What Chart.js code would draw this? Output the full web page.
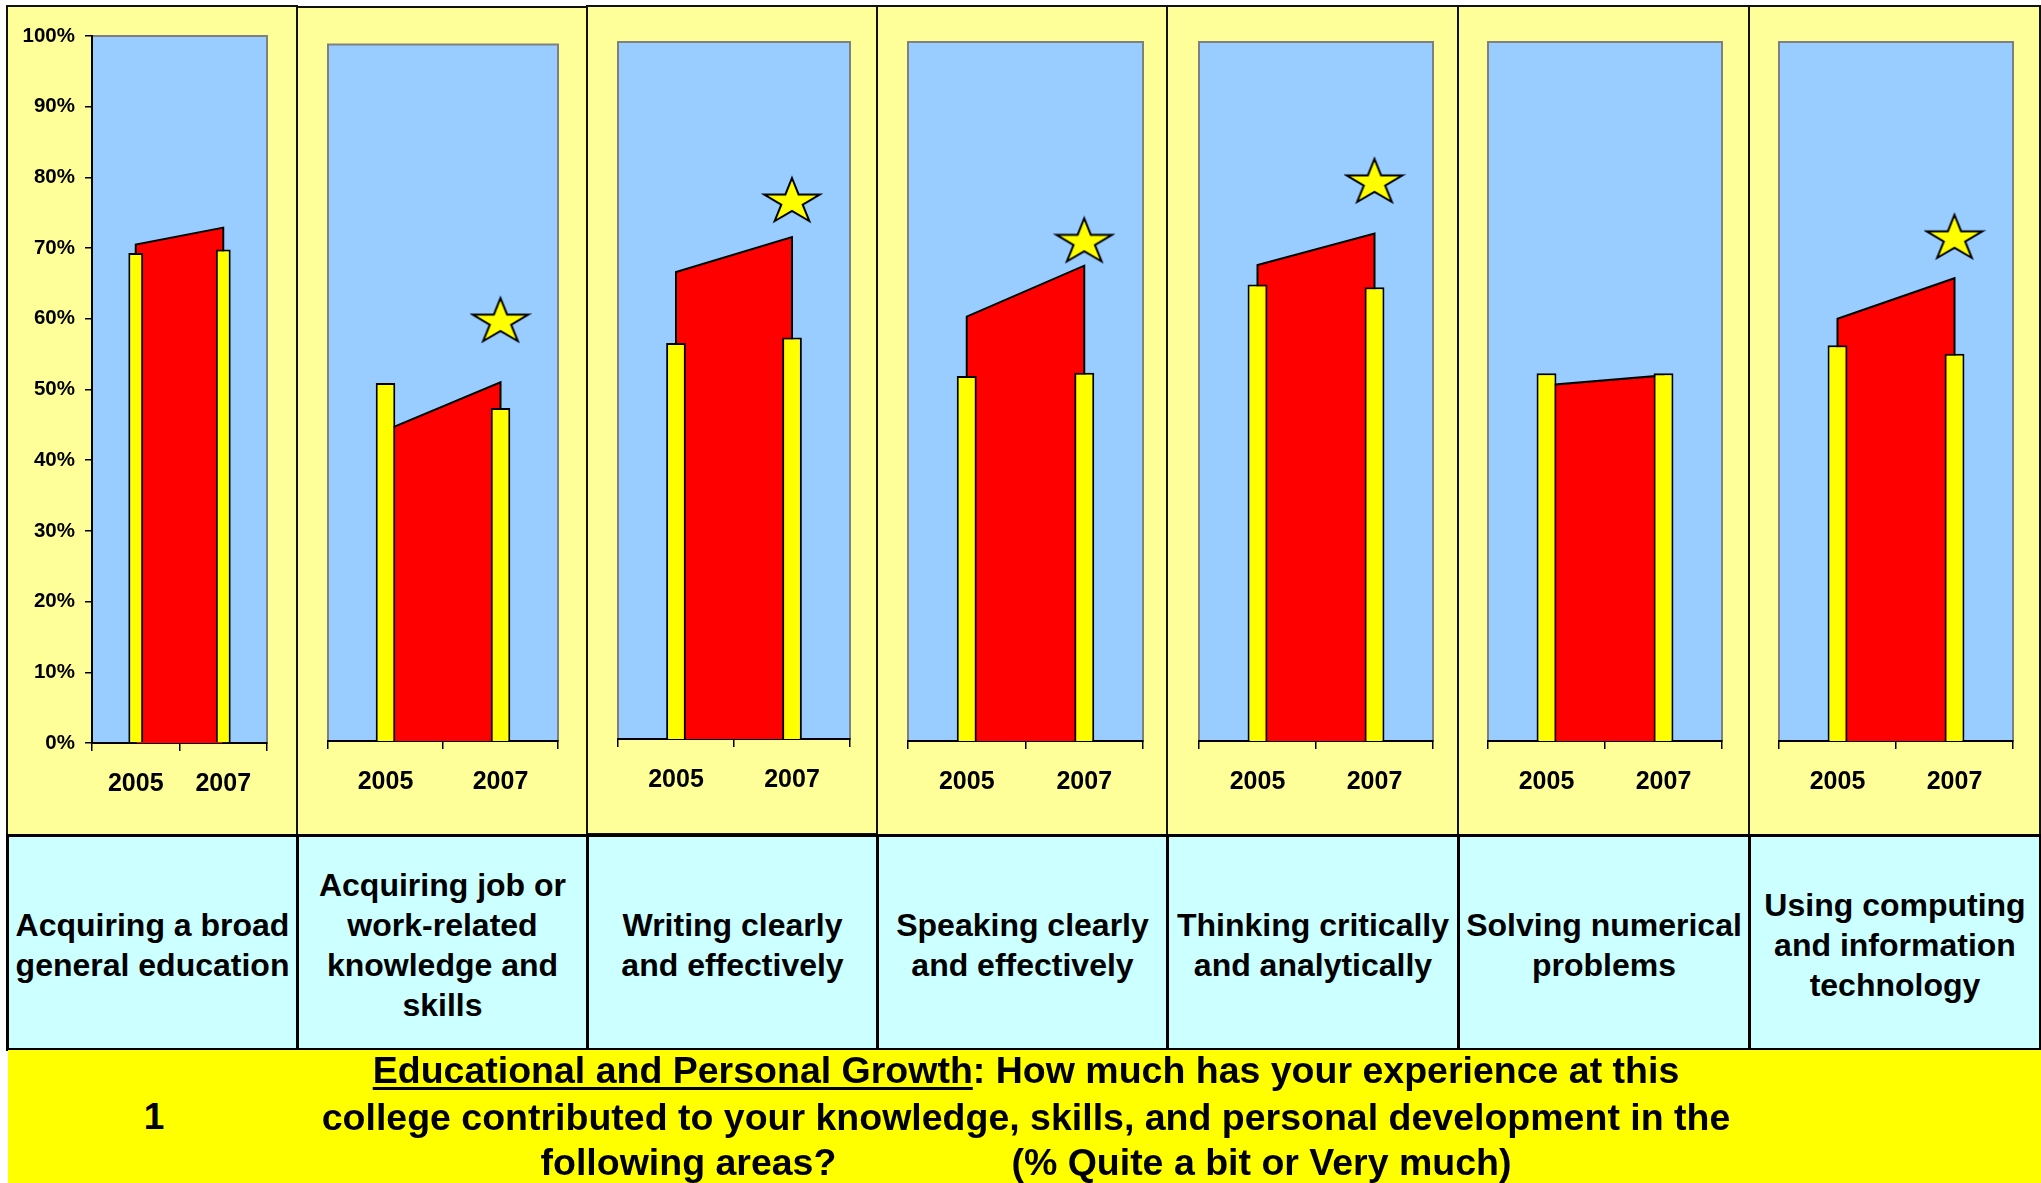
<!DOCTYPE html>
<html><head><meta charset="utf-8">
<script src="https://cdn.jsdelivr.net/npm/chart.js@4.4.1/dist/chart.umd.min.js"></script>
<style>
html,body{margin:0;padding:0;background:#fff;width:2041px;height:1183px;overflow:hidden;font-family:"Liberation Sans",Arial,sans-serif;}
.panel{position:absolute;background:#FFFF99;}
.panel canvas{position:absolute;left:0;top:0;}
.pborder{position:absolute;border:2px solid #111;box-sizing:border-box;pointer-events:none;}
.cell{position:absolute;box-sizing:border-box;border:3px solid #000;background:#CCFFFF;display:flex;align-items:center;justify-content:center;text-align:center;font-weight:bold;font-size:32px;line-height:40px;color:#000;padding-top:5px;}
#footer{position:absolute;left:8px;top:1050px;width:2033px;height:133px;background:#FFFF00;}
.fl{position:absolute;left:200px;width:1652px;text-align:center;font-weight:bold;font-size:37.5px;line-height:46px;white-space:nowrap;color:#000;}
.fl u{text-decoration-thickness:3px;text-underline-offset:4px;}
#qnum{position:absolute;left:128px;width:52px;text-align:center;font-weight:bold;font-size:37px;line-height:46px;top:1094px;}
</style></head><body>
<div id="root"></div>
<div id="footer"></div>
<div id="qnum">1</div>
<div class="fl" style="top:1047px"><u>Educational and Personal Growth</u>: How much has your experience at this</div>
<div class="fl" style="top:1094px">college contributed to your knowledge, skills, and personal development in the</div>
<div class="fl" style="top:1139px">following areas?<span style="display:inline-block;width:175px"></span>(% Quite a bit or Very much)</div>
<script>
// ---- data ----
const categories = [
  ['Acquiring a broad', 'general education'],
  ['Acquiring job or', 'work-related', 'knowledge and', 'skills'],
  ['Writing clearly', 'and effectively'],
  ['Speaking clearly', 'and effectively'],
  ['Thinking critically', 'and analytically'],
  ['Solving numerical', 'problems'],
  ['Using computing', 'and information', 'technology']
];
const years = ['2005', '2007'];
const college2005 = [69.3, 51.4, 56.8, 52.2, 65.3, 52.6, 56.6];
const college2007 = [69.8, 47.8, 57.6, 52.7, 64.9, 52.6, 55.4];
const comparison2005 = [70.5, 44.6, 67.0, 60.7, 68.1, 50.9, 60.4];
const comparison2007 = [72.9, 51.5, 72.0, 68.0, 72.6, 52.3, 66.2];
const starValues = [null, 60.5, 77.4, 71.7, 80.2, null, 72.2];
const yTickValues = [0, 10, 20, 30, 40, 50, 60, 70, 80, 90, 100];
const yTickSuffix = '%';

// ---- layout ----
const boxes = [
 {l:7,   t:6, r:297,  b:836, pl:92,   pt:36,   pr:267,  pb:743},
 {l:297, t:7, r:587,  b:836, pl:328,  pt:44.5, pr:558,  pb:741},
 {l:587, t:6, r:877,  b:834, pl:618,  pt:42,   pr:850,  pb:739},
 {l:877, t:6, r:1167, b:836, pl:908,  pt:42,   pr:1143, pb:741},
 {l:1167,t:6, r:1458, b:836, pl:1199, pt:42,   pr:1433, pb:741},
 {l:1458,t:6, r:1749, b:836, pl:1488, pt:42,   pr:1722, pb:741},
 {l:1749,t:6, r:2040, b:836, pl:1779, pt:42,   pr:2013, pb:741}
];
const FONT = '"Liberation Sans", Arial, sans-serif';

function makeStar(w, h) {
  const pad = 3;
  const c = document.createElement('canvas');
  c.width = w + pad * 2; c.height = h + pad * 2;
  const ctx = c.getContext('2d');
  const sx = w / 1.902, sy = h / 1.809;
  const cx = c.width / 2, cy = pad + sy;
  ctx.beginPath();
  for (let k = 0; k < 10; k++) {
    const ang = -Math.PI / 2 + k * Math.PI / 5;
    const rad = (k % 2) ? 0.382 : 1;
    const x = cx + Math.cos(ang) * rad * sx, y = cy + Math.sin(ang) * rad * sy;
    if (k) ctx.lineTo(x, y); else ctx.moveTo(x, y);
  }
  ctx.closePath();
  ctx.fillStyle = '#FFFF00'; ctx.fill();
  ctx.lineWidth = 2; ctx.strokeStyle = '#000'; ctx.lineJoin = 'miter'; ctx.stroke();
  return c;
}
const starImg = makeStar(56, 43);

const bgPlugin = {
  id: 'plotbg',
  beforeDraw(chart) {
    const {ctx, chartArea: a} = chart;
    ctx.save();
    ctx.fillStyle = '#99CCFF';
    ctx.fillRect(a.left, a.top, a.right - a.left, a.bottom - a.top);
    ctx.strokeStyle = '#808080'; ctx.lineWidth = 2;
    ctx.strokeRect(a.left, a.top, a.right - a.left, a.bottom - a.top);
    ctx.restore();
  }
};

const root = document.getElementById('root');
boxes.forEach((bx, i) => {
  const w = bx.r - bx.l, h = bx.b - bx.t;
  const div = document.createElement('div');
  div.className = 'panel';
  div.style.cssText = `left:${bx.l}px;top:${bx.t}px;width:${w}px;height:${h}px;`;
  const cv = document.createElement('canvas');
  cv.width = w; cv.height = h; cv.style.width = w + 'px'; cv.style.height = h + 'px';
  div.appendChild(cv);
  root.appendChild(div);
  const bd = document.createElement('div');
  bd.className = 'pborder';
  bd.style.cssText = `left:${bx.l - 1}px;top:${bx.t - 1}px;width:${w + 2}px;height:${h + 2}px;`;
  root.appendChild(bd);

  const cell = document.createElement('div');
  cell.className = 'cell';
  cell.style.cssText = `left:${bx.l - 1}px;top:834px;width:${w + 3}px;height:217px;`;
  cell.innerHTML = '<div>' + categories[i].join('<br>') + '</div>';
  root.appendChild(cell);

  const showY = i === 0;
  const yw = bx.pl - bx.l;
  const xh = bx.b - bx.pb;
  const starData = starValues[i] == null ? [] : [{x: years[1], y: starValues[i]}];
  const areaData = [
    {x: years[0], y: 0}, {x: years[0], y: comparison2005[i]},
    {x: years[1], y: comparison2007[i]}, {x: years[1], y: 0}
  ];
  new Chart(cv, {
    type: 'bar',
    data: {
      labels: years,
      datasets: [
        {type: 'bar', data: [college2005[i], college2007[i]], backgroundColor: '#FFFF00', borderColor: '#000',
         borderWidth: 2, barPercentage: 0.17, categoryPercentage: 1, grouped: false, order: 0},
        {type: 'line', data: starData, showLine: false, pointStyle: starImg, pointRadius: 6, order: -1},
        {type: 'line', data: areaData, borderColor: '#000', borderWidth: 2, backgroundColor: '#FF0000',
         fill: 'origin', pointRadius: 0, tension: 0, order: 1, borderJoinStyle: 'miter'}
      ]
    },
    options: {
      responsive: false, animation: false, events: [],
      layout: {autoPadding: false, padding: {left: 0, top: bx.pt - bx.t, right: bx.r - bx.pr, bottom: 0}},
      plugins: {legend: {display: false}, tooltip: {enabled: false}},
      scales: {
        x: {type: 'category', offset: true,
            grid: {display: true, offset: true, drawOnChartArea: false, drawTicks: true, tickLength: 8, color: '#000', lineWidth: 1.5},
            border: {display: true, color: '#000', width: 2},
            ticks: {color: '#000', font: {family: FONT, size: 25, weight: 'bold'}, padding: 18, maxRotation: 0, autoSkip: false},
            afterFit(s) { s.height = xh; }},
        y: {display: showY, min: 0, max: 100,
            afterBuildTicks(s) { s.ticks = yTickValues.map(v => ({value: v})); },
            ticks: {callback: v => v + yTickSuffix, color: '#000', font: {family: FONT, size: 20.5, weight: 'bold'}, padding: 10},
            grid: {drawOnChartArea: false, drawTicks: true, tickLength: 7, color: '#000', lineWidth: 1.5},
            border: {display: true, color: '#000', width: 2},
            afterFit(s) { s.width = yw; }}
      }
    },
    plugins: [bgPlugin]
  });
});
</script>
</body></html>
